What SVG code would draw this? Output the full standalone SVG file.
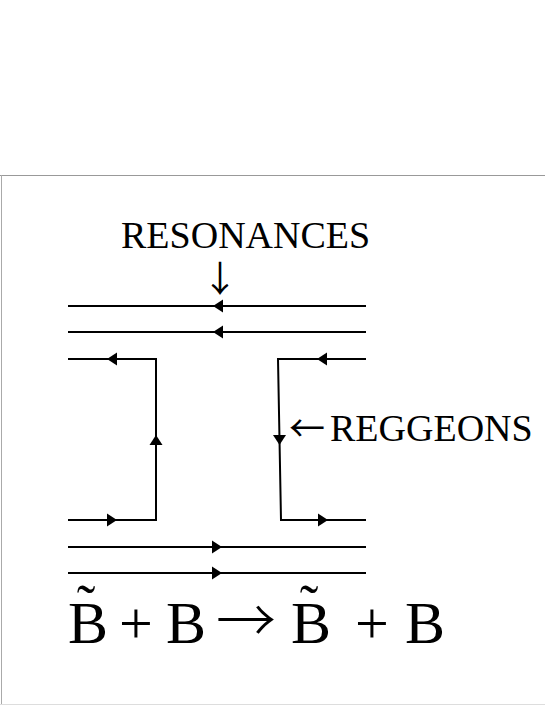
<svg xmlns="http://www.w3.org/2000/svg" xmlns:xlink="http://www.w3.org/1999/xlink" width="545" height="705" viewBox="0 0 545 705">
<style>
.ln{stroke:#000;stroke-width:2;fill:none}
.t{font-family:"Liberation Serif","Times New Roman",serif;fill:#000}
.ar{font-family:"Noto Sans CJK JP","Noto Sans CJK SC",sans-serif;fill:#000}
.ah{fill:#000}
.fr{stroke-width:1;fill:none}
</style>
<defs>
<path id="tri" d="M0,0 L-10,-6.5 L-10,6.5 Z"/>
</defs>
<rect width="545" height="705" fill="#fff"/>
<g id="frame">
<line class="fr" x1="0" y1="175.5" x2="545" y2="175.5" stroke="#999"/>
<line class="fr" x1="1.5" y1="175" x2="1.5" y2="705" stroke="#aaa"/>
<line class="fr" x1="0" y1="704.5" x2="545" y2="704.5" stroke="#ddd"/>
</g>
<g id="connectors">
<line class="ln" x1="68" y1="306" x2="366" y2="306"/>
<line class="ln" x1="68" y1="332" x2="366" y2="332"/>
<polyline class="ln" points="68,359 156,359 156,520 68,520"/>
<polyline class="ln" points="366,359 278,359 281,520 366,520"/>
<line class="ln" x1="68" y1="547" x2="366" y2="547"/>
<line class="ln" x1="68" y1="573" x2="366" y2="573"/>
<use class="ah" xlink:href="#tri" transform="translate(213,306) rotate(180)"/>
<use class="ah" xlink:href="#tri" transform="translate(213,332) rotate(180)"/>
<use class="ah" xlink:href="#tri" transform="translate(107,359) rotate(180)"/>
<use class="ah" xlink:href="#tri" transform="translate(156,435) rotate(-90)"/>
<use class="ah" xlink:href="#tri" transform="translate(117,520)"/>
<use class="ah" xlink:href="#tri" transform="translate(317,359) rotate(180)"/>
<use class="ah" xlink:href="#tri" transform="translate(279.5,445) rotate(90)"/>
<use class="ah" xlink:href="#tri" transform="translate(328,520)"/>
<use class="ah" xlink:href="#tri" transform="translate(222,547)"/>
<use class="ah" xlink:href="#tri" transform="translate(222,573)"/>
</g>
<g id="resonances">
<text class="t" x="121" y="248" font-size="38">RESONANCES</text>
<text class="ar" x="220" y="292" font-size="36" text-anchor="middle">↓</text>
</g>
<g id="reggeons">
<text class="ar" x="307" y="442" font-size="36" text-anchor="middle">←</text>
<text class="t" x="330" y="441" font-size="38">REGGEONS</text>
</g>
<g id="formula" class="t" font-size="60" text-anchor="middle">
<text x="88" y="643">B</text>
<text x="86" y="624" font-size="56">˜</text>
<text x="136" y="643">+</text>
<text x="186" y="643">B</text>
<text class="ar" x="246" y="643" font-size="60" font-weight="300">→</text>
<text x="311" y="643">B</text>
<text x="309" y="624" font-size="56">˜</text>
<text x="372" y="643">+</text>
<text x="425" y="643">B</text>
</g>
</svg>
